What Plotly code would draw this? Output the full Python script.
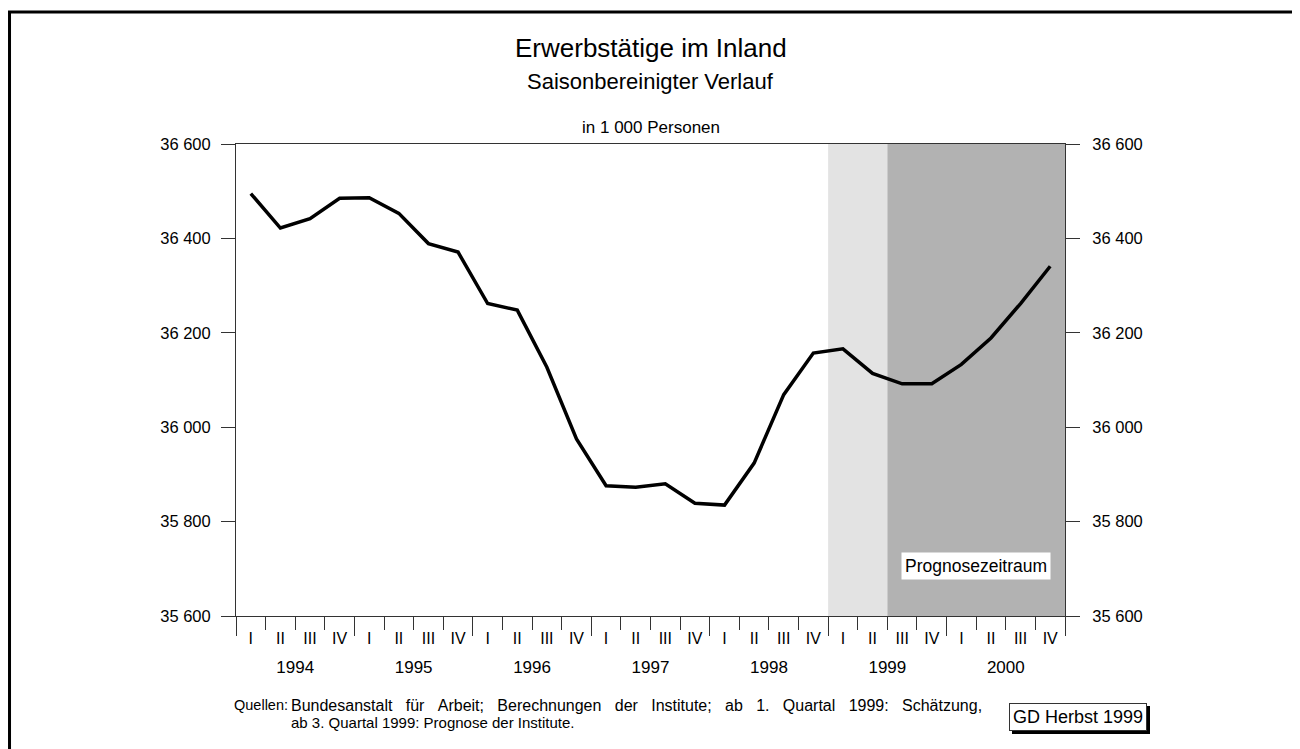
import plotly.graph_objects as go

# Erwerbstätige im Inland, saisonbereinigt, in 1 000 Personen (1994 I - 2000 IV)
quarters = ["I", "II", "III", "IV"] * 7
years = ["1994", "1995", "1996", "1997", "1998", "1999", "2000"]
persons = [36495, 36422, 36442, 36485, 36486, 36453, 36389, 36371,
           36262, 36248, 36127, 35975, 35876, 35873, 35880, 35839,
           35835, 35924, 36069, 36157, 36166, 36114, 36092, 36092,
           36133, 36189, 36262, 36341]
y_ticks = [35600, 35800, 36000, 36200, 36400, 36600]
estimate_span = [19.5, 21.5]   # ab 1. Quartal 1999: Schätzung
forecast_span = [21.5, 27.5]   # ab 3. Quartal 1999: Prognose

FONT = "Liberation Sans, Arial, sans-serif"
AXC = "#333333"

x = list(range(len(persons)))
q_bounds = [i - 0.5 for i in range(len(persons) + 1)]
y_centers = [1.5 + 4 * i for i in range(len(years))]
y_bounds = [-0.5 + 4 * i for i in range(len(years) + 1)]
y_text = [f"{v:,}".replace(",", " ") for v in y_ticks]
xr = [-0.5, len(persons) - 0.5]

fig = go.Figure()
fig.add_trace(go.Scatter(x=x, y=persons, mode="lines",
                         line=dict(color="black", width=3.5),
                         showlegend=False, hoverinfo="skip"))
# helper trace so that the second axes get drawn
fig.add_trace(go.Scatter(x=x, y=persons, mode="lines", xaxis="x2", yaxis="y2",
                         line=dict(width=0), opacity=0,
                         showlegend=False, hoverinfo="skip"))

fig.add_shape(type="rect", xref="x", yref="paper", x0=estimate_span[0], x1=estimate_span[1],
              y0=0, y1=1, fillcolor="#e3e3e3", line=dict(width=0), layer="below")
fig.add_shape(type="rect", xref="x", yref="paper", x0=forecast_span[0], x1=forecast_span[1],
              y0=0, y1=1, fillcolor="#b2b2b2", line=dict(width=0), layer="below")
# outer frame
fig.add_shape(type="rect", xref="paper", yref="paper", x0=-0.2732, x1=1.2774,
              y0=-0.4, y1=1.2797, line=dict(color="black", width=3))

yax = dict(range=[35600, 36600], tickvals=y_ticks, ticktext=y_text, ticks="outside",
           ticklen=14, tickcolor=AXC, showline=True, linecolor=AXC, linewidth=1,
           showgrid=False, zeroline=False, tickfont=dict(size=16.5, color="black"))

fig.update_layout(
    width=1292, height=741,
    margin=dict(l=228, r=235, t=136, b=133),
    paper_bgcolor="white", plot_bgcolor="white",
    font=dict(family=FONT, color="black"),
    xaxis=dict(range=xr, tickvals=x, ticktext=quarters, ticks="", showline=True,
               mirror=True, linecolor=AXC, linewidth=1, showgrid=False, zeroline=False,
               tickfont=dict(size=16), ticklabelstandoff=8,
               minor=dict(tickvals=q_bounds, ticks="outside", ticklen=13, tickcolor=AXC)),
    xaxis2=dict(range=xr, overlaying="x", anchor="y", side="bottom",
                tickvals=y_centers, ticktext=years, ticks="", showline=False,
                showgrid=False, zeroline=False, tickfont=dict(size=17),
                ticklabelstandoff=39,
                minor=dict(tickvals=y_bounds, ticks="outside", ticklen=19, tickcolor=AXC)),
    yaxis=dict(yax, ticklabelstandoff=7),
    yaxis2=dict(yax, overlaying="y", side="right", anchor="x", ticklabelstandoff=9),
)

def note(text, x, y, size, xanchor="center", **kw):
    fig.add_annotation(text=text, xref="paper", yref="paper", x=x, y=y,
                       xanchor=xanchor, yanchor="middle", showarrow=False,
                       font=dict(size=size, color="black"), **kw)

note("Erwerbstätige im Inland", 0.5, 1.2034, 26)
note("Saisonbereinigter Verlauf", 0.5, 1.1314, 22)
note("in 1 000 Personen", 0.5, 1.0339, 17)

fig.add_annotation(text="Prognosezeitraum", xref="x", yref="y", x=24.5, y=35705,
                   xanchor="center", yanchor="middle", showarrow=False,
                   bgcolor="white", borderpad=3, font=dict(size=17.5, color="black"))

sp = " " + "\u00a0" * 2
line1 = sp.join("Bundesanstalt für Arbeit; Berechnungen der Institute; ab 1. Quartal 1999: Schätzung,".split(" "))
note("Quellen:", -0.0048, -0.1886, 14.5, xanchor="left")
note(line1, 0.0639, -0.1886, 16, xanchor="left")
note("ab 3. Quartal 1999: Prognose der Institute.", 0.0639, -0.2246, 15, xanchor="left")

# GD Herbst box with shadow
for shift, bg in [(3, "black"), (0, "white")]:
    note("GD Herbst 1999", 1.0157, -0.214, 18, xshift=shift, yshift=-shift, bgcolor=bg,
         bordercolor="black" if shift else AXC, borderwidth=1, borderpad=3)

fig.write_html("out.html")
